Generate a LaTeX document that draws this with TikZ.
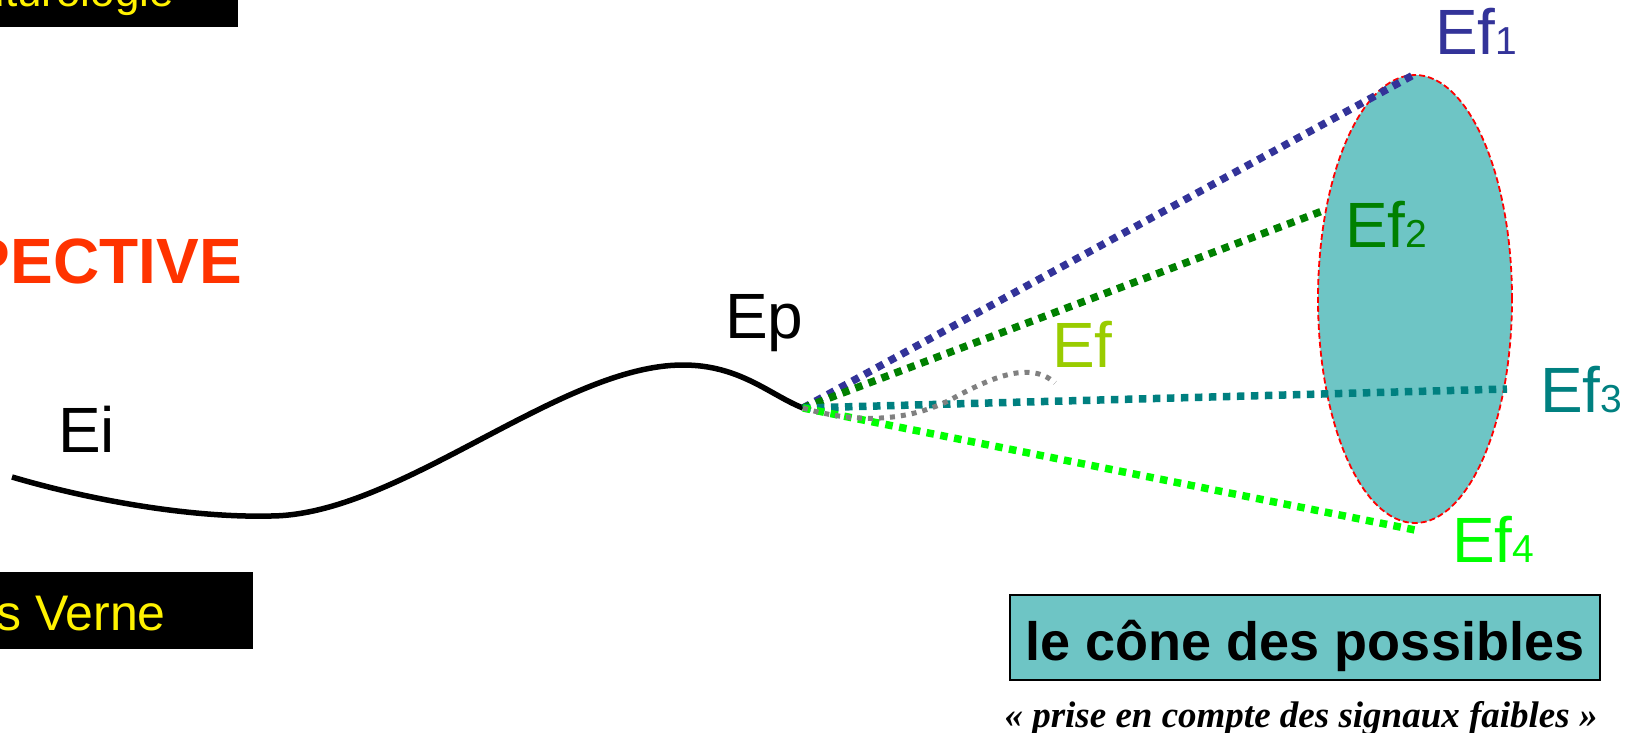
\documentclass[tikz,border=0pt]{standalone}
\usepackage{fontspec}
\setmainfont{Liberation Sans}
\newfontfamily\quotefont{Liberation Serif}
\usetikzlibrary{shapes.geometric}

\definecolor{efblue}{HTML}{333399}
\definecolor{efgreen}{HTML}{008000}
\definecolor{eflime}{HTML}{99CC00}
\definecolor{efteal}{HTML}{008080}
\definecolor{effluo}{HTML}{00FF00}
\definecolor{conefill}{HTML}{6EC5C5}
\definecolor{prosred}{HTML}{FF3300}

\tikzset{
  lbl/.style={anchor=base west, inner sep=0pt},
  futur/.style={line width=7.5pt, dash pattern=on 7.5pt off 6.5pt},
  weak/.style={line width=5pt, dash pattern=on 5pt off 6pt, gray},
}
\newcommand\Ef[1]{{\fontsize{64}{64}\selectfont Ef}{\fontsize{39}{39}\selectfont #1}}

\begin{document}
\begin{tikzpicture}[x=1pt,y=-1pt]
            \useasboundingbox (0,0) rectangle (1636,733);
            \clip (0,0) rectangle (1636,733);

            \fill[black] (0,0) rectangle (238,27);
            \node[inner sep=0pt, anchor=base east, text=yellow] (futuro) at (174,7) {\fontsize{44}{44}\selectfont Futurologie};
            \fill[black] (0,572) rectangle (253,649);
            \node[inner sep=0pt, anchor=base east, text=yellow] (verne) at (166,630) {\fontsize{50}{50}\selectfont Jules Verne};
            \node[inner sep=0pt, anchor=base east, text=prosred] (prosp) at (242,283) {\bfseries\fontsize{64}{64}\selectfont PROSPECTIVE};

            \coordinate (ei) at (12,477);
            \coordinate (ep) at (803,408);
            \draw[line width=5.5pt] (ei) .. controls (90,500) and (190,518) .. (271,516)
                .. controls (400,515) and (560,365) .. (683,365)
                .. controls (740,365) and (770,395) .. (ep);
            \node[lbl] (eilbl) at (58,452) {\fontsize{64}{64}\selectfont Ei};
            \node[lbl] (eplbl) at (725,338) {\fontsize{64}{64}\selectfont Ep};

            \node[ellipse, draw=red, line width=1.8pt, dash pattern=on 6pt off 3pt, fill=conefill,
                  minimum width=194pt, minimum height=448pt, inner sep=0pt] (cone) at (1415,299) {};
            \coordinate (f1) at (cone.north);
            \coordinate (f2) at (1325,210);
            \coordinate (f3) at (1507,389);
            \coordinate (f4) at (1415,530);
            \coordinate (fw) at (1055,383);

            \draw[futur, efblue] (ep) -- (f1);
            \draw[futur, efgreen] (ep) -- (f2);
            \draw[futur, efteal] (ep) -- (f3);
            \draw[futur, effluo] (ep) -- (f4);
            \draw[weak] (ep) .. controls (860,425) and (910,420) .. (950,400)
                .. controls (990,378) and (1030,360) .. (fw);

            \node[lbl, text=efblue] (ef1) at (1435,55) {\Ef{1}};
            \node[lbl, text=efgreen] (ef2) at (1345,247) {\Ef{2}};
            \node[lbl, text=efteal] (ef3) at (1540,412) {\Ef{3}};
            \node[lbl, text=effluo] (ef4) at (1452,562) {\Ef{4}};
            \node[lbl, text=eflime] (ef) at (1052,367) {\fontsize{64}{64}\selectfont Ef};

            \node[draw=black, line width=2pt, fill=conefill, minimum width=590pt, minimum height=85pt,
                  inner sep=0pt, text height=45pt, text depth=0pt] (conebox) at (1305,637.5)
                  {\bfseries\fontsize{54}{54}\selectfont le cône des possibles};
            \node[inner sep=0pt, anchor=base] (signaux) at (1301,727)
                  {\quotefont\bfseries\itshape\fontsize{37}{37}\selectfont « prise en compte des signaux faibles »};
        \end{tikzpicture}
\end{document}
